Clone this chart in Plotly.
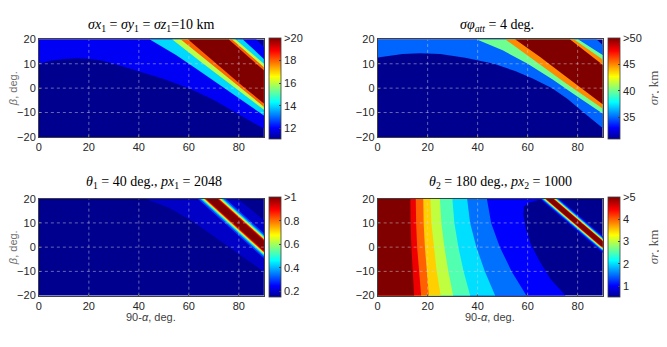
import plotly.graph_objects as go
from plotly.colors import sample_colorscale

# MATLAB jet colormap
JET = [[0.0, "rgb(0,0,143)"], [0.111, "rgb(0,0,255)"], [0.365, "rgb(0,255,255)"],
       [0.619, "rgb(255,255,0)"], [0.873, "rgb(255,0,0)"], [1.0, "rgb(128,0,0)"]]

X_RANGE = [0, 90]
Y_RANGE = [-20, 20]
x_ticks = [0, 20, 40, 60, 80]
y_ticks = [-20, -10, 0, 10, 20]

# ---- panel 1: sigma x1 = y1 = z1 = 10 km  (ridge with nested bands)
p1_clim = [11.1, 20]
p1_levels = [12, 14, 16, 18, 20]
p1_lower_x = [[0, 5, 10, 15, 20, 25, 30, 40, 50, 60, 70, 80, 90],
              [44.4, 55, 65, 75, 90],
              [53.4, 65, 78.7, 90],
              [56.8, 68, 80.9, 90],
              [59.7, 71, 82.5, 90]]
p1_lower_y = [[10, 11.3, 12, 12.3, 12.1, 11.3, 10, 7.0, 3.8, 0, -4.9, -10.8, -16.6],
              [20, 13.5, 6.5, -0.5, -11.2],
              [20, 10.6, 0, -8.9],
              [20, 10.6, 0, -7.6],
              [20, 10, 0, -6.3]]
p1_upper_x = [[87, 90], [81.6, 90], [78.7, 90], [77.3, 90], [76, 90]]
p1_upper_y = [[20, 16.9], [20, 12], [20, 10], [20, 8.6], [20, 7.3]]
p1_cb_ticks = [12, 14, 16, 18, 20]
p1_cb_text = ["12", "14", "16", "18", ">20"]

# ---- panel 2: sigma phi_att = 4 deg
p2_clim = [31, 50]
p2_levels = [35, 40, 45, 50]
p2_lower_x = [[0, 10, 17, 25, 35, 46.5, 55, 62, 69.8, 76, 82.4, 90],
              [39.7, 50, 60, 70, 80, 90],
              [51.1, 62, 75, 90],
              [55.1, 65, 75, 90]]
p2_lower_y = [[12.6, 14, 14.3, 14, 12.5, 10, 7, 4, 0, -4.5, -10, -16.3],
              [20, 15.5, 10, 3.5, -3.5, -10.4],
              [20, 11.8, 2.2, -8.3],
              [20, 12.8, 5, -6.6]]
p2_upper_x = [[87.6, 90], [80.3, 90], [78.6, 90], [77, 90]]
p2_upper_y = [[20, 17.7], [20, 13.6], [20, 11.7], [20, 9.6]]
p2_cb_ticks = [35, 40, 45, 50]
p2_cb_text = ["35", "40", "45", ">50"]

# ---- panel 3: theta1 = 40 deg, px1 = 2048
p3_clim = [0.153, 1]
p3_levels = [0.2]
p3_lower_x = [[42.5, 52, 62, 70, 77, 84, 90]]
p3_lower_y = [[20, 16.3, 10.3, 4.5, -0.5, -5.5, -10.2]]
p3_upper_x = [[79.5, 90]]
p3_upper_y = [[20, 11.2]]
p3_ridge_x = [69.1, 90]
p3_ridge_y = [20, 0.6]
p3_stripe_levels = [0.3, 0.4, 0.5, 0.6, 0.7, 0.8, 0.9, 1.0]
p3_stripe_halfwidth = [5.6, 4.7, 4.1, 3.7, 3.3, 3.0, 2.7, 2.3]
p3_cb_ticks = [0.2, 0.4, 0.6, 0.8, 1]
p3_cb_text = ["0.2", "0.4", "0.6", "0.8", ">1"]

# ---- panel 4: theta2 = 180 deg, px2 = 1000
p4_clim = [0.5, 5]
p4_levels = [1.0, 1.5, 2.0, 2.5, 3.0, 3.5, 4.0, 4.5, 5.0]
p4_edge_x = [[66.5, 60.5, 58.5, 58.3, 59.2, 61.2, 64.5, 69.2, 75.1],
             [43.7, 45.4, 48.9, 53.6, 59.5],
             [35.8, 37.0, 39.5, 42.9, 47.0],
             [29.9, 30.7, 32.3, 34.4, 37.0],
             [24.9, 25.5, 26.7, 28.3, 30.2],
             [21.1, 21.5, 22.5, 23.6, 25.2],
             [18.1, 18.4, 18.9, 19.6, 20.5],
             [15.1, 15.4, 15.8, 16.5, 17.4],
             [13.0, 13.2, 13.5, 14.0, 14.6]]
p4_edge_y = [[20, 18.4, 16.7, 13.3, 8, 1.4, -5.3, -13.2, -20]] + [[20, 10, 0, -10, -20]] * 8
p4_ridge_x = [68.7, 90]
p4_ridge_y = [20, 1.2]
p4_stripe_levels = [1.0, 1.5, 2.0, 2.5, 3.0, 3.5, 4.0, 4.5, 5.0]
p4_stripe_halfwidth = [3.9, 3.3, 2.8, 2.5, 2.2, 2.0, 1.8, 1.6, 1.4]
p4_cb_ticks = [1, 2, 3, 4, 5]
p4_cb_text = ["1", "2", "3", "4", ">5"]

titles = ["<i>σx</i><sub>1</sub> = <i>σy</i><sub>1</sub> = <i>σz</i><sub>1</sub>=10 km",
          "<i>σφ</i><sub><i>att</i></sub> = 4 deg.",
          "<i>θ</i><sub>1</sub> = 40 deg., <i>px</i><sub>1</sub> = 2048",
          "<i>θ</i><sub>2</sub> = 180 deg., <i>px</i><sub>2</sub> = 1000"]
cbar_label = "<i>σr</i>, km"

W, H = 667, 347
OFF = 8  # the page body margin moves the figure by this much
# axes boxes in window pixels (left, right, top, bottom)
boxes = [(36, 262, 34.3, 135.3), (376.3, 602.3, 34.3, 135.3),
         (36, 262, 199.3, 299.7), (376.3, 602.3, 199.3, 299.7)]
SERIF = "Liberation Serif"
SANS = "Liberation Sans"


def fx(p):
    return (p - OFF) / W


def fy(p):
    return 1 - (p - OFF) / H


fig = go.Figure()


def level_color(v, clim):
    t = (v - clim[0]) / (clim[1] - clim[0])
    return sample_colorscale(JET, [min(max(t, 0), 1)])[0]


def push_out(x, y):
    # end point on the frame -> point just outside it
    if x <= X_RANGE[0] + 0.5:
        return (X_RANGE[0] - 10, y)
    if x >= X_RANGE[1] - 0.5:
        return (X_RANGE[1] + 10, y)
    if y >= Y_RANGE[1] - 0.5:
        return (x, Y_RANGE[1] + 10)
    return (x, Y_RANGE[0] - 10)


TL = (X_RANGE[0] - 10, Y_RANGE[1] + 10)
BL = (X_RANGE[0] - 10, Y_RANGE[0] - 10)
BR = (X_RANGE[1] + 10, Y_RANGE[0] - 10)


def add_fill(pts, color, n):
    fig.add_trace(go.Scatter(x=[p[0] for p in pts], y=[p[1] for p in pts], mode="lines",
                             fill="toself", fillcolor=color, line=dict(width=0, color=color),
                             hoverinfo="skip", showlegend=False,
                             xaxis="x" + n, yaxis="y" + n))


def ridge_bands(lx, ly, ux, uy, levels, clim, n):
    for k in range(len(levels)):
        lo = list(zip(lx[k], ly[k]))
        up = list(zip(ux[k], uy[k]))
        pts = [TL, push_out(*lo[0])] + lo + [push_out(*lo[-1]), BR, push_out(*up[-1])]
        pts += up[::-1] + [push_out(*up[0]), TL]
        add_fill(pts, level_color(levels[k], clim), n)


def left_bands(ex, ey, levels, clim, n):
    for k in range(len(levels)):
        c = list(zip(ex[k], ey[k]))
        pts = [push_out(*c[0])] + c + [push_out(*c[-1]), BL, TL, push_out(*c[0])]
        add_fill(pts, level_color(levels[k], clim), n)


def stripe(rx, ry, levels, hw, clim, n):
    dx, dy = rx[1] - rx[0], ry[1] - ry[0]
    a = (rx[0] - 0.6 * dx, ry[0] - 0.6 * dy)
    b = (rx[0] + 1.6 * dx, ry[0] + 1.6 * dy)
    for v, w in zip(levels, hw):
        pts = [(a[0] - w, a[1]), (b[0] - w, b[1]), (b[0] + w, b[1]), (a[0] + w, a[1]), (a[0] - w, a[1])]
        add_fill(pts, level_color(v, clim), n)


def base(clim, n):
    pts = [TL, BL, BR, (X_RANGE[1] + 10, Y_RANGE[1] + 10), TL]
    add_fill(pts, level_color(clim[0], clim), n)


base(p1_clim, "")
ridge_bands(p1_lower_x, p1_lower_y, p1_upper_x, p1_upper_y, p1_levels, p1_clim, "")
base(p2_clim, "2")
ridge_bands(p2_lower_x, p2_lower_y, p2_upper_x, p2_upper_y, p2_levels, p2_clim, "2")
base(p3_clim, "3")
ridge_bands(p3_lower_x, p3_lower_y, p3_upper_x, p3_upper_y, p3_levels, p3_clim, "3")
stripe(p3_ridge_x, p3_ridge_y, p3_stripe_levels, p3_stripe_halfwidth, p3_clim, "3")
base(p4_clim, "4")
left_bands(p4_edge_x, p4_edge_y, p4_levels, p4_clim, "4")
stripe(p4_ridge_x, p4_ridge_y, p4_stripe_levels, p4_stripe_halfwidth, p4_clim, "4")

# colorbars
cbars = [(p1_clim, p1_cb_ticks, p1_cb_text), (p2_clim, p2_cb_ticks, p2_cb_text),
         (p3_clim, p3_cb_ticks, p3_cb_text), (p4_clim, p4_cb_ticks, p4_cb_text)]
for i, (clim, tv, tt) in enumerate(cbars):
    n = "" if i == 0 else str(i + 1)
    l, r, t, b = boxes[i]
    fig.add_trace(go.Scatter(
        x=[None], y=[None], mode="markers", showlegend=False, hoverinfo="skip",
        xaxis="x" + n, yaxis="y" + n,
        marker=dict(color=[clim[0]], cmin=clim[0], cmax=clim[1], colorscale=JET, size=0,
                    showscale=True,
                    colorbar=dict(x=fx(r + 5.5), xanchor="left", y=fy((t + b) / 2),
                                  yanchor="middle", lenmode="pixels", len=b - t,
                                  thicknessmode="pixels", thickness=11.5, xpad=0, ypad=0,
                                  outlinewidth=0.8, outlinecolor="#404040",
                                  tickvals=tv, ticktext=tt, ticks="inside", ticklen=2,
                                  tickcolor="#404040",
                                  tickfont=dict(family=SANS, size=11, color="#262626")))))

layout = dict(width=W, height=H, margin=dict(l=0, r=0, t=0, b=0),
              paper_bgcolor="white", plot_bgcolor="white", showlegend=False)
shapes = []
annotations = []
for i, (l, r, t, b) in enumerate(boxes):
    n = "" if i == 0 else str(i + 1)
    ax_common = dict(showline=True, mirror=True, linecolor="#404040", linewidth=0.8,
                     showgrid=False, zeroline=False, ticks="inside", ticklen=2,
                     tickcolor="#404040",
                     tickfont=dict(family=SANS, size=11, color="#262626"))
    layout["xaxis" + n] = dict(domain=[fx(l), fx(r)], range=X_RANGE, anchor="y" + n,
                               tickvals=x_ticks, **ax_common)
    layout["yaxis" + n] = dict(domain=[fy(b), fy(t)], range=Y_RANGE, anchor="x" + n,
                               tickvals=y_ticks, **ax_common)
    grid = dict(color="rgba(215,215,225,0.6)", width=0.8, dash="dot")
    for xv in x_ticks[1:]:
        shapes.append(dict(type="line", xref="x" + n, yref="y" + n, x0=xv, x1=xv,
                           y0=Y_RANGE[0], y1=Y_RANGE[1], line=grid, layer="above"))
    for yv in y_ticks[1:-1]:
        shapes.append(dict(type="line", xref="x" + n, yref="y" + n, y0=yv, y1=yv,
                           x0=X_RANGE[0], x1=X_RANGE[1], line=grid, layer="above"))

title_cx = [149, 496, 151.7, 500]
title_cy = [20, 20, 183, 183]
for i in range(4):
    annotations.append(dict(text=titles[i], x=fx(title_cx[i]), y=fy(title_cy[i]),
                            xref="paper", yref="paper", showarrow=False,
                            xanchor="center", yanchor="middle",
                            font=dict(family=SERIF, size=14, color="black")))
for cy in [84.8, 249.5]:
    annotations.append(dict(text="<i>β</i>, deg.", x=fx(10), y=fy(cy), xref="paper",
                            yref="paper", showarrow=False, textangle=-90,
                            xanchor="center", yanchor="middle",
                            font=dict(family=SANS, size=11, color="#707070")))
    annotations.append(dict(text=cbar_label, x=fx(653), y=fy(cy), xref="paper",
                            yref="paper", showarrow=False, textangle=-90,
                            xanchor="center", yanchor="middle",
                            font=dict(family=SERIF, size=13, color="#555555")))
for cx in [149, 489.3]:
    annotations.append(dict(text="90-<i>α</i>, deg.", x=fx(cx), y=fy(322), xref="paper",
                            yref="paper", showarrow=False, xanchor="center", yanchor="middle",
                            font=dict(family=SANS, size=11, color="#404040")))
layout["shapes"] = shapes
layout["annotations"] = annotations
fig.update_layout(**layout)
fig.write_html("out.html")
